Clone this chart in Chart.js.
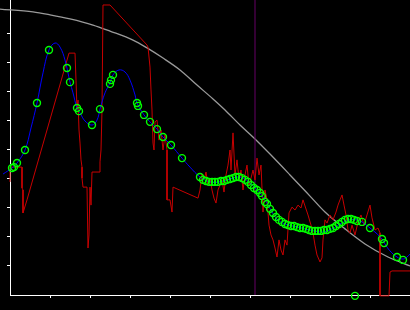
<!DOCTYPE html>
<html>
<head>
<meta charset="utf-8">
<script src="https://cdn.jsdelivr.net/npm/chart.js@4/dist/chart.umd.min.js"></script>
<style>
html,body{margin:0;padding:0;background:#000;}
#c{display:block;background:#000;}
</style>
</head>
<body>
<canvas id="c" width="410" height="310"></canvas>
<script>
// smooth gray curve
const grayX = [-2.5, 5.75, 10, 15, 20.75, 25, 30.75, 34.25, 38.25, 42.5, 46.75, 50.75, 53.75, 57.5, 61.25, 65, 70, 75, 78.75, 83.75, 88.75, 94.5, 100];
const grayY = [9.86, 9.76, 9.66, 9.52, 9.31, 9.10, 8.79, 8.52, 8.17, 7.76, 7.24, 6.76, 6.38, 5.86, 5.38, 4.86, 4.14, 3.41, 2.86, 2.28, 1.76, 1.31, 1.00];

// blue smooth line
const blueX = [-1.75, 0.5, 1.75, 3.75, 5.25, 6.75, 8.25, 9.75, 11.25, 12.5, 13.75, 15, 15.75, 16.75, 17.5, 18.75, 20.5, 21.75, 22.5, 23.75, 25, 25.75, 27.25, 28.75, 30, 31.25, 31.75, 33.5, 35, 36.75, 38.25, 40.25, 43, 45, 47.5, 50, 52.5, 55, 56.75, 58.25, 60, 61.25, 62.5, 64.25, 65.5, 66.75, 68.75, 72, 75, 78, 80.5, 82.5, 85, 86.75, 88, 90, 91.5, 93, 93.75, 95, 96.75, 98.25, 99.25, 100];
const blueY = [4.17, 4.38, 4.55, 5.00, 5.76, 6.62, 7.66, 8.45, 8.69, 8.55, 8.10, 7.34, 6.97, 6.45, 6.28, 6.00, 5.86, 6.03, 6.41, 6.97, 7.31, 7.59, 7.76, 7.69, 7.41, 6.90, 6.62, 6.21, 5.97, 5.72, 5.45, 5.17, 4.72, 4.41, 4.07, 3.90, 3.90, 4.00, 4.07, 4.03, 3.86, 3.69, 3.52, 3.17, 2.86, 2.62, 2.45, 2.34, 2.24, 2.17, 2.28, 2.45, 2.59, 2.59, 2.52, 2.31, 2.14, 1.93, 1.76, 1.52, 1.31, 1.24, 1.31, 1.41];

// green circles
const greenX = [-1.75, 0.5, 1, 1.75, 3.75, 6.75, 9.75, 14.25, 15, 16.75, 17.25, 20.5, 22.5, 25, 25.25, 25.75, 31.75, 32, 33.5, 35, 36.75, 38.25, 40.25, 43, 47.5,
  48.25, 49, 49.75, 50.5, 51.25, 52, 52.75, 53.5, 54.25, 55, 55.75, 56.5, 57.25, 58, 58.75, 59.5, 60.25, 61, 61.75, 62.5, 63, 63.75, 64.25, 65, 65.75, 66.5, 67.25, 68, 68.75, 69.5, 70.25, 71, 71.75, 72.5, 73.25, 74, 74.75, 75.5, 76.25, 77, 77.75, 78.5, 79.25, 80, 80.75, 81.5, 82.25, 83, 83.75, 84.5, 85.25, 86, 86.75,
  88, 90, 93, 93.5, 96.75, 98.25, 86.25];
const greenY = [4.17, 4.38, 4.41, 4.55, 5.00, 6.62, 8.45, 7.83, 7.34, 6.45, 6.34, 5.86, 6.41, 7.28, 7.41, 7.59, 6.62, 6.52, 6.21, 5.97, 5.72, 5.45, 5.17, 4.72, 4.07,
  3.97, 3.93, 3.90, 3.90, 3.90, 3.90, 3.93, 3.93, 3.97, 4.00, 4.03, 4.07, 4.07, 4.03, 3.97, 3.90, 3.79, 3.69, 3.62, 3.52, 3.41, 3.21, 3.14, 2.97, 2.83, 2.69, 2.59, 2.52, 2.45, 2.41, 2.38, 2.38, 2.34, 2.31, 2.31, 2.28, 2.24, 2.21, 2.21, 2.21, 2.21, 2.24, 2.24, 2.28, 2.31, 2.38, 2.45, 2.52, 2.59, 2.62, 2.62, 2.59, 2.55,
  2.52, 2.31, 1.93, 1.79, 1.31, 1.21, -0.03];

// red noisy line
const redX = [0, 0, 3, 3, 3.25, 3.25, 4.25, 14.75, 16.25, 16.5, 16.75, 17, 17.25, 17.5, 17.75, 18, 18, 18.25, 19.25, 19.5, 19.75, 20, 20.25, 20.5, 22.5, 22.5, 22.75, 23, 23.25, 25,
  34.25, 34.5, 35, 35.25, 35.5, 35.75, 36, 36.25, 36.75, 37.25, 37.75, 38.25, 38.75, 39.25, 39.25, 40, 40.5, 40.75, 47, 47.5, 48, 48.5, 49, 49.5, 50, 50.5, 51, 51.5, 52, 52.5, 53, 53.5, 54, 54.5, 55, 55.25, 55.75, 56.25, 56.75, 57.25, 57.75, 58.25, 58.75, 59.25, 59.75, 60.25, 60.75, 61.25, 61.75, 62.25, 62.75,
  63.25, 63.75, 64.25, 64.75, 65.25, 65.75, 66.25, 66.75, 67.25, 67.75, 68.25, 68.75, 69.25, 69.75, 70.5, 71.25, 72, 72.75, 73.25, 73.75, 74.5, 75.25, 75.75, 76.25, 76.75, 77.5, 78, 78.25, 78.75, 79.25, 80, 80.75, 81.5, 82, 82.5, 83, 83.5, 84, 84.5, 85, 85.5, 86.25, 87, 87.75, 88.5, 89.25, 90, 90.5, 91.25, 92, 92.5, 92.5, 94.75, 95, 95.5, 100];
const redY = [3.90, 4.41, 4.41, 3.69, 3.62, 2.83, 3.28, 8.34, 8.34, 7.41, 6.38, 6.72, 5.69, 5.24, 4.66, 4.41, 4.03, 3.72, 3.72, 1.62, 2.07, 3.72, 3.10, 4.24, 4.24, 4.59, 5.00, 6.38, 10.00, 10.00,
  8.62, 8.55, 7.86, 7.07, 6.38, 5.24, 5.00, 5.97, 6.03, 5.34, 5.69, 5.00, 5.52, 5.00, 3.28, 3.28, 2.86, 3.72, 3.34, 3.62, 4.17, 3.97, 4.24, 3.79, 4.03, 3.62, 3.34, 3.17, 3.62, 3.79, 3.97, 3.55, 4.14, 4.48, 5.00, 4.31, 5.59, 4.14, 4.66, 3.97, 4.31, 3.62, 4.14, 4.48, 3.79, 4.03, 4.31, 3.97, 4.72, 4.14, 4.48,
  2.86, 3.62, 3.28, 2.41, 2.07, 1.90, 1.62, 1.31, 1.90, 1.55, 1.38, 1.90, 1.72, 2.83, 3.03, 2.93, 3.10, 3.00, 3.28, 3.07, 2.76, 2.41, 2.14, 1.72, 1.38, 1.14, 1.28, 1.90, 2.59, 2.48, 2.76, 2.59, 2.86, 3.10, 3.28, 3.45, 3.10, 2.76, 2.24, 2.14, 2.41, 2.07, 2.52, 2.76, 2.41, 2.76, 3.10, 2.66, 2.24, 2.31, 2.14, -0.03, -0.03, 0.79, 0.83, 0.83];

// vertical marker
const markerX = [61.25, 61.25];
const markerY = [0, 10.3];

const xTicks = [10, 20, 30, 40, 50, 60, 70, 80, 90];
const yTicks = [1, 2, 3, 4, 5, 6, 7, 8, 9];

const pts = (xs, ys) => xs.map((x, i) => ({x: x, y: ys[i]}));

new Chart(document.getElementById('c'), {
  type: 'scatter',
  data: {
    datasets: [
      {data: pts(greenX, greenY), showLine: false, pointRadius: 3.5, pointBorderWidth: 1.4,
       pointBorderColor: '#00ff00', pointBackgroundColor: 'rgba(0,0,0,0)', clip: false, order: 1},
      {data: pts(blueX, blueY), showLine: true, pointRadius: 0, borderColor: '#0000ff', borderWidth: 1,
       tension: 0.4, clip: false, order: 2},
      {data: pts(redX, redY), showLine: true, pointRadius: 0, borderColor: '#c80000', borderWidth: 1,
       tension: 0, clip: false, order: 3},
      {data: pts(markerX, markerY), showLine: true, pointRadius: 0, borderColor: '#660066', borderWidth: 1,
       clip: false, order: 4},
      {data: pts(grayX, grayY), showLine: true, pointRadius: 0, borderColor: '#9a9a9a', borderWidth: 1.3,
       cubicInterpolationMode: 'monotone', clip: false, order: 5}
    ]
  },
  options: {
    responsive: false,
    animation: false,
    devicePixelRatio: 1,
    layout: {autoPadding: false, padding: {left: 7, right: 0, top: 0, bottom: 12}},
    plugins: {legend: {display: false}, tooltip: {enabled: false}, title: {display: false}},
    scales: {
      x: {
        type: 'linear', min: 0, max: 100,
        afterBuildTicks: s => { s.ticks = xTicks.map(v => ({value: v})); },
        ticks: {display: false},
        grid: {display: true, drawOnChartArea: false, drawTicks: true, tickLength: 3, color: '#ffffff', lineWidth: 1},
        border: {display: true, color: '#ffffff', width: 1}
      },
      y: {
        type: 'linear', min: 0, max: 10.1724,
        afterBuildTicks: s => { s.ticks = yTicks.map(v => ({value: v})); },
        ticks: {display: false},
        grid: {display: true, drawOnChartArea: false, drawTicks: true, tickLength: 3, color: '#ffffff', lineWidth: 1},
        border: {display: true, color: '#ffffff', width: 1}
      }
    }
  }
});
</script>
</body>
</html>
